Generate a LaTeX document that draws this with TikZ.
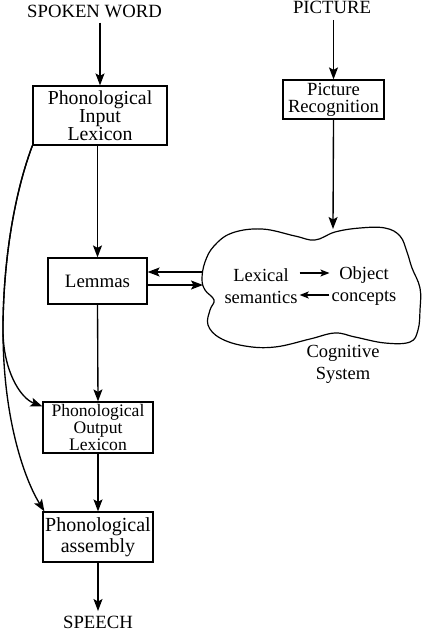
\documentclass[tikz,border=0pt]{standalone}
\usepackage{fontspec}
\setmainfont{Liberation Serif}
\usetikzlibrary{arrows.meta}
\tikzset{
  arr/.style={line width=1.35pt,-{Stealth[length=12pt,width=9pt,inset=2.5pt]}},
  sarr/.style={line width=1.35pt,-{Stealth[length=9pt,width=7pt,inset=2pt]}},
  box/.style={draw,line width=1.2pt,inner sep=0pt,align=center},
  lbl/.style={inner sep=0pt,align=center},
}
\begin{document}
\begin{tikzpicture}[x=1pt,y=-1pt,font=\fontsize{18.7}{19}\selectfont]
\useasboundingbox (0,0) rectangle (423,632);
% labels
\node[lbl] (sw) at (94.5,11) {SPOKEN WORD};
\node[lbl] (pic) at (332,7.5) {PICTURE};
\node[lbl] (sp) at (98,622.5) {SPEECH};
% boxes
\node[box,minimum width=134pt,minimum height=59pt,font=\fontsize{19.8}{18}\selectfont] (pil) at (100,115.5) {Phonological\\Input\\Lexicon};
\node[box,minimum width=101pt,minimum height=39pt,font=\fontsize{18.6}{17}\selectfont] (pr) at (333.5,99.5) {Picture\\Recognition};
\node[box,minimum width=99pt,minimum height=46pt,font=\fontsize{18.9}{19}\selectfont] (lem) at (97.5,281) {Lemmas};
\node[box,minimum width=110pt,minimum height=51pt,font=\fontsize{17.6}{17}\selectfont] (pol) at (98,427.5) {Phonological\\Output\\Lexicon};
\node[box,minimum width=110pt,minimum height=50pt,font=\fontsize{20}{21}\selectfont] (pa) at (98,537) {Phonological\\assembly};
% cloud
\draw[line width=1.2pt] plot[smooth cycle,tension=0.65] coordinates {
 (202,279) (205,262) (214,246) (232,233) (262,229) (295,236) (315,240)
 (335,232) (360,228) (385,228) (400,236) (407,252) (412,268) (420,288)
 (420,310) (418,330) (410,342) (385,343) (355,337) (335,333) (310,339)
 (275,347) (245,346) (220,338) (208,325) (210,310) (214,300) (205,290)};
\coordinate (ctop) at (333,229);
\coordinate (cin) at (202,272);
\coordinate (cout) at (203,285);
\node[lbl,inner sep=2pt,font=\fontsize{18.5}{22}\selectfont] (ls) at (261,286) {Lexical\\semantics};
\node[lbl,inner sep=2pt,font=\fontsize{18.5}{22}\selectfont] (oc) at (364,286) {Object\\concepts};
\node[lbl,font=\fontsize{18.5}{22}\selectfont] (cs) at (343,364) {Cognitive\\System};
% arrows
\draw[arr] (pil.north |- sw.south) ++(0,5) -- (pil.north);
\draw[arr] (pr.north |- pic.south) ++(0,6) -- (pr.north);
\draw[arr] (pr.south) -- (ctop);
\draw[arr] (lem.north |- pil.south) -- (lem.north);
\draw[arr] (cin) -- (cin -| lem.east);
\draw[arr] (cout -| lem.east) -- (cout);
\draw[sarr] (ls.east |- 0,273) -- (oc.west |- 0,273);
\draw[sarr] (oc.west |- 0,295) -- (ls.east |- 0,295);
\draw[arr] (lem.south) -- (pol.north);
\draw[arr] (pol.south) -- (pa.north);
\draw[arr] (pa.south) -- ([yshift=5pt]sp.north);
\coordinate (br) at (3,330);
\draw[arr] (pil.south west) .. controls (12,200) and (3,270) .. (br)
  .. controls (3,370) and (20,398) .. ([yshift=-5pt]pol.north west);
\draw[arr] (pil.south west) .. controls (12,200) and (3,270) .. (br)
  .. controls (3,420) and (25,480) .. ([xshift=2pt]pa.north west);
\end{tikzpicture}
\end{document}
